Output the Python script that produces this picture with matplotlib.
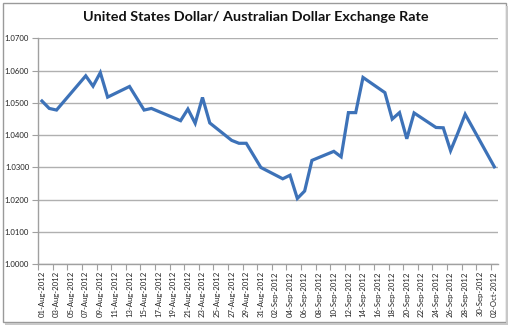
import matplotlib
matplotlib.use("Agg")
import matplotlib.pyplot as plt
import matplotlib.dates as mdates
from matplotlib.patches import Rectangle
import pandas as pd
import numpy as np

title = "United States Dollar/ Australian Dollar Exchange Rate"

dates = ["2012-08-01", "2012-08-02", "2012-08-03", "2012-08-07", "2012-08-08",
         "2012-08-09", "2012-08-10", "2012-08-13", "2012-08-15", "2012-08-16",
         "2012-08-20", "2012-08-21", "2012-08-22", "2012-08-23", "2012-08-24",
         "2012-08-27", "2012-08-28", "2012-08-29", "2012-08-31", "2012-09-03",
         "2012-09-04", "2012-09-05", "2012-09-06", "2012-09-07", "2012-09-10",
         "2012-09-11", "2012-09-12", "2012-09-13", "2012-09-14", "2012-09-17",
         "2012-09-18", "2012-09-19", "2012-09-20", "2012-09-21", "2012-09-24",
         "2012-09-25", "2012-09-26", "2012-09-27", "2012-09-28", "2012-10-02"]
rates = [1.0506, 1.0483, 1.0478, 1.0584, 1.0552,
         1.0594, 1.0518, 1.0551, 1.0478, 1.0483,
         1.0445, 1.0481, 1.0437, 1.0517, 1.0438,
         1.0384, 1.0375, 1.0375, 1.0300, 1.0265,
         1.0276, 1.0204, 1.0227, 1.0322, 1.0350,
         1.0333, 1.0470, 1.0470, 1.0579, 1.0532,
         1.0450, 1.0470, 1.0389, 1.0469, 1.0424,
         1.0423, 1.0352, 1.0407, 1.0465, 1.0302]

axis_start = "2012-08-01"
axis_end = "2012-10-03"
y_ticks = [1.00, 1.01, 1.02, 1.03, 1.04, 1.05, 1.06, 1.07]

W, H = 512, 327
fig = plt.figure(figsize=(W / 100, H / 100), dpi=100)
fig.patch.set_facecolor("white")

# chart border
fig.add_artist(Rectangle((3 / W, 1 - 322 / H), 503 / W, 319 / H,
                         transform=fig.transFigure, fill=False,
                         edgecolor="#9a9a9a", lw=1.0))
fig.add_artist(Rectangle((5 / W, 1 - 325 / H), 503 / W, 2 / H,
                         transform=fig.transFigure, color="#c8c8c8", lw=0))
fig.add_artist(Rectangle((506 / W, 1 - 325 / H), 2 / W, 319 / H,
                         transform=fig.transFigure, color="#c8c8c8", lw=0))

ax = fig.add_axes([38.3 / W, 1 - 264.3 / H, (498 - 38.3) / W, (264.3 - 38.4) / H])

x = pd.to_datetime(dates) + pd.Timedelta(hours=12)
ax.plot(x, rates, color="#3D72B8", lw=2.3, solid_joinstyle="miter", zorder=3)

x0 = mdates.date2num(pd.Timestamp(axis_start))
x1 = mdates.date2num(pd.Timestamp(axis_end))
ax.set_xlim(x0, x1)
ax.set_ylim(1.0, 1.07)

for s in ["top", "right"]:
    ax.spines[s].set_visible(False)
for s in ["left", "bottom"]:
    ax.spines[s].set_color("#a0a0a0")
    ax.spines[s].set_linewidth(1.0)

ax.set_yticks(y_ticks)
ax.set_yticklabels([f"{v:.4f}" for v in y_ticks])
ax.yaxis.grid(True, color="#b0b0b0", lw=1.0)
ax.set_axisbelow(True)
ax.tick_params(axis="y", length=4, color="#a0a0a0", pad=2.5,
               labelsize=5.6, labelcolor="#222222")
for lab in ax.get_yticklabels():
    lab.set_family("Lato")

major = np.arange(x0, x1, 2)
ax.set_xticks(major)
ax.set_xticklabels([])
ax.tick_params(axis="x", which="major", length=4, color="#a0a0a0")
ax.set_xticks(major + 0.5, minor=True)
ax.set_xticklabels([mdates.num2date(v).strftime("%d-%b-%Y") for v in major],
                   minor=True, rotation=90, fontsize=5.6, family="Lato",
                   color="#222222")
ax.tick_params(axis="x", which="minor", length=0, pad=5)

fig.text(0.5, 1 - 17 / H, title, ha="center", va="center",
         fontsize=10.4, fontweight="bold", family="Lato", color="#111111")

fig.savefig("out.png", dpi=100, facecolor="white")
